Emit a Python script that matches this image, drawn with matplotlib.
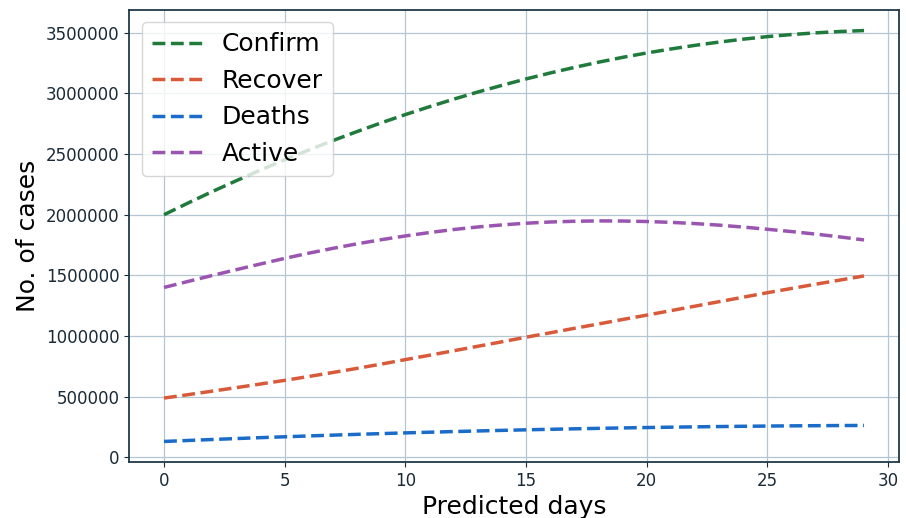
import matplotlib
matplotlib.use("Agg")
import matplotlib.pyplot as plt

days = list(range(30))

confirm = [2.000, 2.097, 2.191, 2.281, 2.369, 2.453, 2.534, 2.612, 2.686, 2.758,
           2.826, 2.891, 2.953, 3.012, 3.067, 3.120, 3.169, 3.215, 3.258, 3.298,
           3.334, 3.367, 3.397, 3.424, 3.448, 3.469, 3.486, 3.500, 3.511, 3.519]
recover = [0.488, 0.516, 0.545, 0.574, 0.604, 0.634, 0.666, 0.699, 0.733, 0.768,
           0.805, 0.841, 0.878, 0.915, 0.952, 0.990, 1.026, 1.063, 1.099, 1.136,
           1.172, 1.209, 1.246, 1.283, 1.320, 1.357, 1.392, 1.427, 1.461, 1.495]
deaths = [0.1300, 0.1382, 0.1462, 0.1540, 0.1614, 0.1686, 0.1755, 0.1822, 0.1886, 0.1947,
          0.2006, 0.2062, 0.2116, 0.2166, 0.2214, 0.2260, 0.2303, 0.2343, 0.2381, 0.2416,
          0.2448, 0.2478, 0.2505, 0.2529, 0.2551, 0.2570, 0.2587, 0.2600, 0.2612, 0.2620]
active = [1.400, 1.450, 1.499, 1.547, 1.594, 1.640, 1.683, 1.723, 1.760, 1.794,
          1.825, 1.853, 1.878, 1.899, 1.916, 1.930, 1.940, 1.946, 1.949, 1.948,
          1.944, 1.937, 1.927, 1.914, 1.898, 1.880, 1.861, 1.840, 1.817, 1.792]

labels = ["Confirm", "Recover", "Deaths", "Active"]
series = [confirm, recover, deaths, active]
colors = ["#1f7a3c", "#d85a3a", "#1a6cc8", "#9a55b0"]

fig = plt.figure(figsize=(9.06, 5.18), dpi=100)
ax = fig.add_axes([0.1424, 0.1081, 0.8499, 0.8726])

for lab, vals, col in zip(labels, series, colors):
    ax.plot(days, [v * 1e6 for v in vals], linestyle="--", linewidth=2.5, color=col, label=lab)

ax.ticklabel_format(axis="y", style="plain", useOffset=False)
ax.set_yticks([0, 500000, 1000000, 1500000, 2000000, 2500000, 3000000, 3500000])
ax.set_xticks([0, 5, 10, 15, 20, 25, 30])
ax.tick_params(labelsize=12, colors="#1a2a36")
ax.grid(True, color="#b3c6d2", linewidth=0.9)
for s in ax.spines.values():
    s.set_color("#1f3a48")
    s.set_linewidth(1.3)

ax.set_xlabel("Predicted days", fontsize=18)
ax.set_ylabel("No. of cases", fontsize=18)
ax.legend(loc="upper left", fontsize=18)

fig.savefig("out.png", dpi=100)
